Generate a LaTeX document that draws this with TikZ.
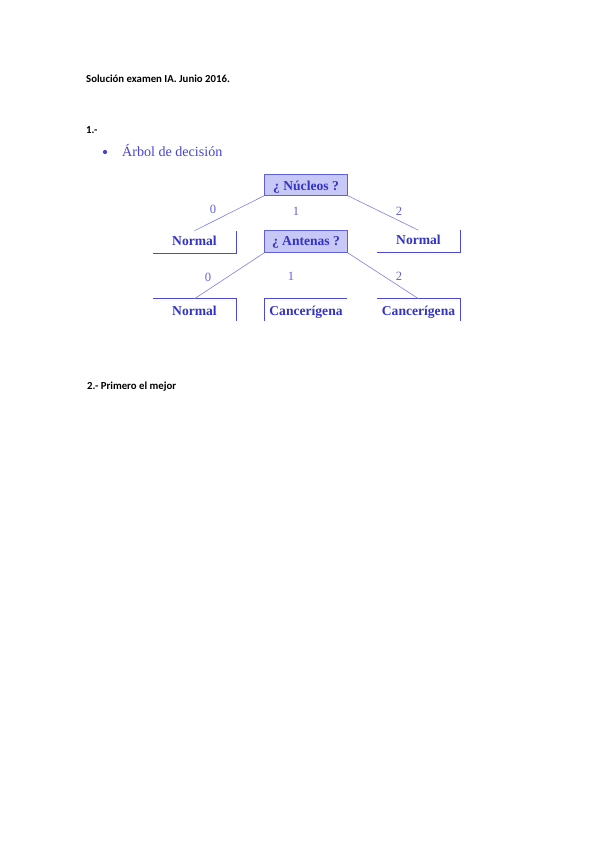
\documentclass[tikz,border=0pt]{standalone}
\usepackage{fontspec}
\setmainfont{Liberation Serif}
\newfontfamily\hdfont{Carlito}
\begin{document}
\begin{tikzpicture}[x=0.9938pt,y=-0.9938pt,
  treetext/.style={text=treeblue, font=\fontsize{13.5}{15}\selectfont\bfseries, inner xsep=0pt, inner ysep=0pt, minimum width=82.5pt},
  qbox/.style={treetext, fill=boxfill, draw=boxdraw, line width=0.8pt},
  leafbox/.style={treetext},
  bracket/.style={draw=bracketblue, line width=0.9pt},
  edge/.style={draw=edgeblue, line width=0.6pt},
  lbl/.style={text=lblblue, font=\fontsize{12.5}{14}\selectfont, inner sep=0pt},
  hd/.style={font=\hdfont\fontsize{10.7}{12}\selectfont\bfseries, text=black, inner sep=0pt, anchor=base west}]
\definecolor{treeblue}{HTML}{3434C4}
\definecolor{boxfill}{HTML}{C8C8F6}
\definecolor{boxdraw}{HTML}{6060D8}
\definecolor{bracketblue}{HTML}{4A4AD4}
\definecolor{edgeblue}{HTML}{8080E0}
\definecolor{lblblue}{HTML}{6262D4}
\definecolor{bulletblue}{HTML}{4646D4}
\useasboundingbox[fill=white] (0,0) rectangle (599,848);

% header texts
\node[hd] (title) at (86,82) {Solución examen IA. Junio 2016.};
\node[hd] (one) at (86,133.5) {1.-};
\node[hd] (two) at (87,389) {2.- Primero el mejor};
\node[circle, fill=bulletblue, inner sep=0pt, minimum size=4.2pt] (bullet) at (105,152) {};
\node[text=bulletblue, font=\fontsize{14}{16}\selectfont, inner sep=0pt, anchor=base west] (arbol) at (122,156) {Árbol de decisión};

% tree nodes
\node[qbox, text height=16pt, text depth=5pt] (N) at (306,184.8) {¿ Núcleos ?};
\node[qbox, text height=15pt, text depth=6.5pt] (A) at (306,241.7) {¿ Antenas ?};
\node[leafbox, minimum width=83pt, text height=14pt, text depth=8pt] (L1) at (194.5,242) {Normal};
\node[leafbox, minimum width=83pt, text height=14pt, text depth=8pt] (R1) at (418.5,241.5) {Normal};
\node[leafbox, minimum width=83pt, text height=16pt, text depth=6pt] (L2) at (194.5,310) {Normal};
\node[leafbox, minimum width=82pt, text height=16pt, text depth=6pt] (M2) at (306,310) {Cancerígena};
\node[leafbox, minimum width=83pt, text height=16pt, text depth=6pt] (R2) at (418.5,310) {Cancerígena};

% brackets
\draw[bracket] (L1.south west) -- (L1.south east) -- (L1.north east);
\draw[bracket] (R1.south west) -- (R1.south east) -- (R1.north east);
\draw[bracket] (L2.north west) -- (L2.north east) -- (L2.south east);
\draw[bracket] (M2.north east) -- (M2.north west) -- (M2.south west);
\draw[bracket] (R2.north west) -- (R2.north east) -- (R2.south east);

% edges
\draw[edge] (N.south west) -- (L1.north);
\draw[edge] (N.south east) -- (R1.north);
\draw[edge] (A.south west) -- (L2.north);
\draw[edge] (A.south east) -- (R2.north);

% labels
\node[lbl] (n0) at (213,209) {0};
\node[lbl] (n1) at (296,211) {1};
\node[lbl] (n2) at (399,211) {2};
\node[lbl] (a0) at (208,277) {0};
\node[lbl] (a1) at (291,276) {1};
\node[lbl] (a2) at (399,276) {2};
\end{tikzpicture}
\end{document}
